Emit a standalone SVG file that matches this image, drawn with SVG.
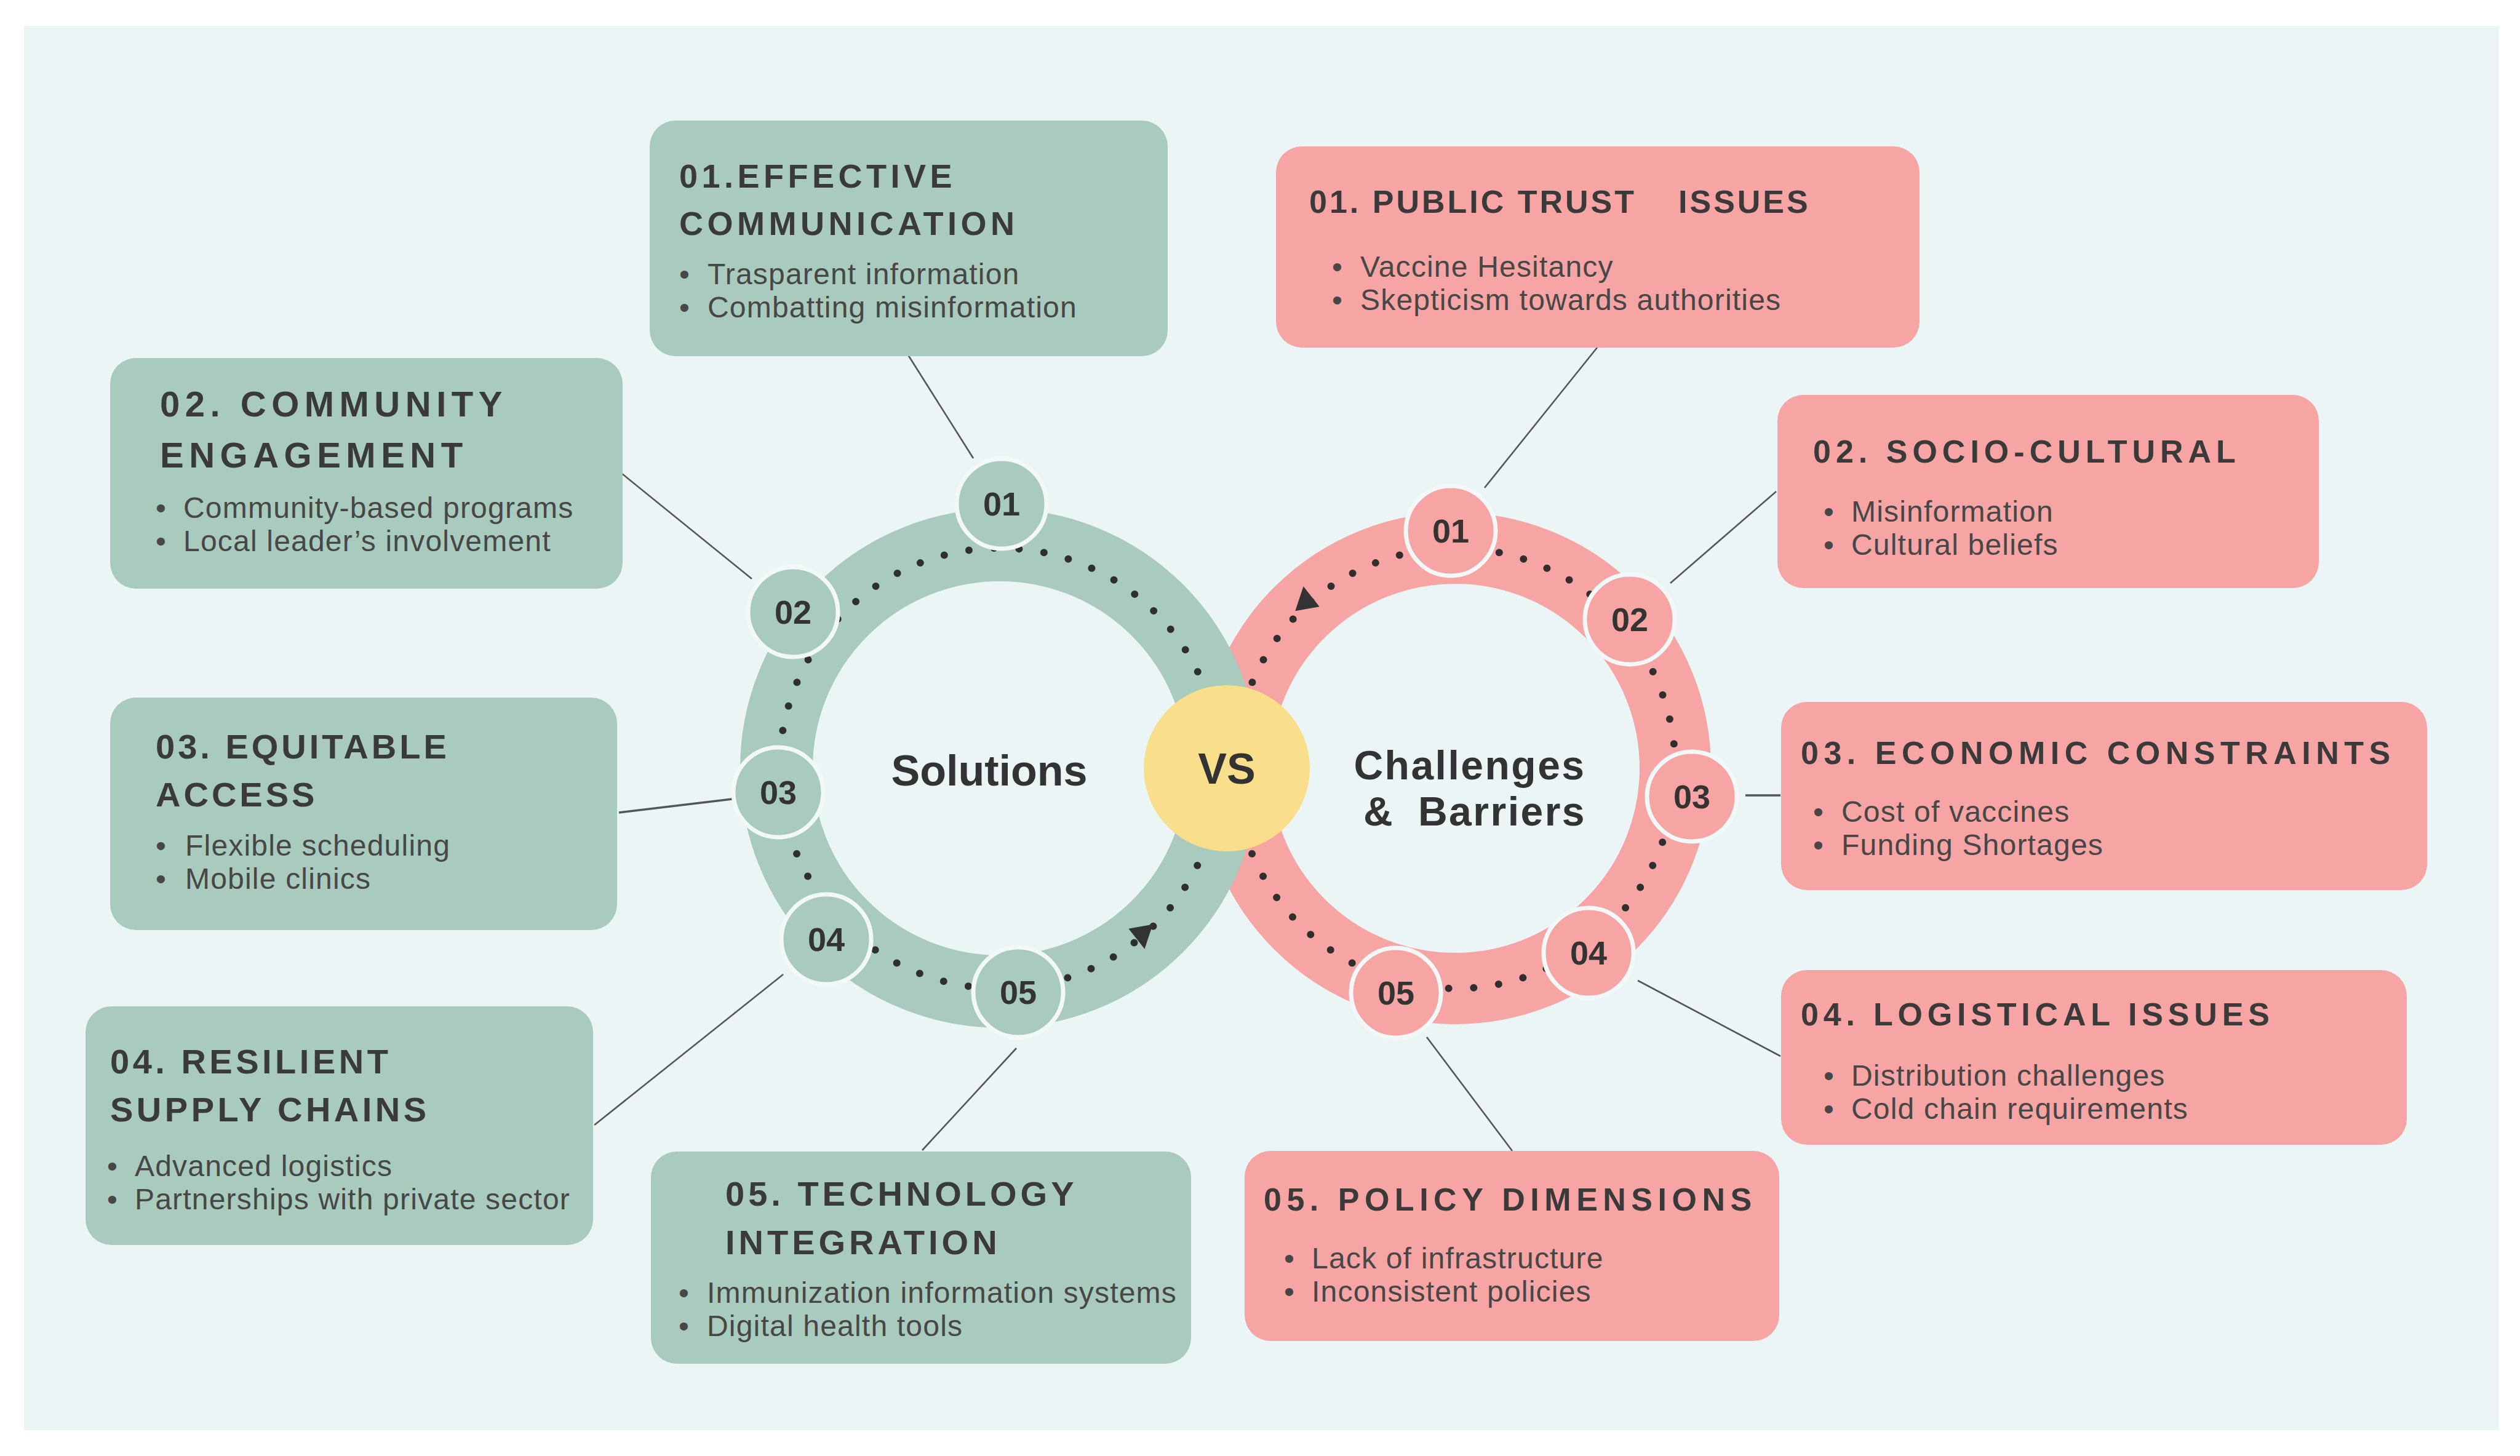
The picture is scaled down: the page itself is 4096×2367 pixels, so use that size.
<svg xmlns="http://www.w3.org/2000/svg" width="4096" height="2367" viewBox="0 0 4096 2367">
<style>
.bg{fill:#EBF5F5}
.gbox{fill:#A9CBBD}
.pbox{fill:#F6A4A4}
.t{font-family:"Liberation Sans",Arial,sans-serif;font-weight:bold;fill:#3A3A3A}
.b{font-family:"Liberation Sans",Arial,sans-serif;font-size:48px;letter-spacing:1.2px;fill:#474747}
.num{font-family:"Liberation Sans",Arial,sans-serif;font-weight:bold;font-size:54px;fill:#333333;text-anchor:middle}
.big{font-family:"Liberation Sans",Arial,sans-serif;font-weight:bold;font-size:70px;fill:#333333;text-anchor:middle}
.gn{fill:#A9CBBD;stroke:#F1F8F7;stroke-width:7}
.pn{fill:#F6A4A4;stroke:#F1F8F7;stroke-width:7}
.dots{fill:none;stroke:#2F2F2F;stroke-width:12;stroke-linecap:round;stroke-dasharray:0 40.9}
.conn{stroke:#555555;stroke-width:2.6;fill:none}
.arrow{fill:#333333}
</style>
<rect x="0" y="0" width="4096" height="2367" fill="#FFFFFF"/>
<rect class="bg" x="39" y="42" width="4023" height="2283"/>

<g id="rings">
  <circle id="pink-ring" cx="2365" cy="1249" r="358" fill="none" stroke="#F6A4A4" stroke-width="116"/>
  <circle class="dots" cx="2365" cy="1249" r="358"/>
  <circle id="green-ring" cx="1625" cy="1249" r="363" fill="none" stroke="#A9CBBD" stroke-width="118"/>
  <circle class="dots" cx="1625" cy="1249" r="358"/>
  <polygon class="arrow" points="20,0 -17,-20 -17,20" transform="translate(1857 1523) rotate(80)"/>
  <polygon class="arrow" points="20,0 -17,-20 -17,20" transform="translate(2122 973) rotate(-100)"/>
</g>

<g id="connectors">
  <line class="conn" x1="1582" y1="745" x2="1476" y2="577"/>
  <line class="conn" x1="1222" y1="941" x2="1011" y2="770"/>
  <line class="conn" x1="1006" y1="1321" x2="1190" y2="1299" style="stroke-width:3.5"/>
  <line class="conn" x1="1273" y1="1584" x2="966" y2="1829"/>
  <line class="conn" x1="1652" y1="1704" x2="1499" y2="1870"/>
  <line class="conn" x1="2413" y1="793" x2="2596" y2="565"/>
  <line class="conn" x1="2715" y1="948" x2="2887" y2="799"/>
  <line class="conn" x1="2837" y1="1293" x2="2894" y2="1293" style="stroke-width:3.5"/>
  <line class="conn" x1="2662" y1="1594" x2="2894" y2="1717"/>
  <line class="conn" x1="2319" y1="1686" x2="2458" y2="1871"/>
</g>

<g id="g-node-01"><circle class="gn" cx="1628" cy="819" r="73"/><text class="num" x="1628" y="838">01</text></g>
<g id="g-node-02"><circle class="gn" cx="1289" cy="995" r="73"/><text class="num" x="1289" y="1014">02</text></g>
<g id="g-node-03"><circle class="gn" cx="1265" cy="1288" r="73"/><text class="num" x="1265" y="1307">03</text></g>
<g id="g-node-04"><circle class="gn" cx="1343" cy="1527" r="73"/><text class="num" x="1343" y="1546">04</text></g>
<g id="g-node-05"><circle class="gn" cx="1655" cy="1613" r="73"/><text class="num" x="1655" y="1632">05</text></g>

<g id="p-node-01"><circle class="pn" cx="2358" cy="863" r="73"/><text class="num" x="2358" y="882">01</text></g>
<g id="p-node-02"><circle class="pn" cx="2649" cy="1007" r="73"/><text class="num" x="2649" y="1026">02</text></g>
<g id="p-node-03"><circle class="pn" cx="2750" cy="1295" r="73"/><text class="num" x="2750" y="1314">03</text></g>
<g id="p-node-04"><circle class="pn" cx="2582" cy="1549" r="73"/><text class="num" x="2582" y="1568">04</text></g>
<g id="p-node-05"><circle class="pn" cx="2269" cy="1614" r="73"/><text class="num" x="2269" y="1633">05</text></g>

<g id="vs"><circle cx="1994" cy="1249" r="135" fill="#F9DF8B"/><text class="big" x="1994" y="1274">VS</text></g>
<g id="solutions-label"><text class="big" x="1608" y="1277">Solutions</text></g>
<g id="challenges-label"><text class="big" style="font-size:66px;letter-spacing:2.5px"><tspan x="2389" y="1267">Challenges</tspan><tspan x="2397" y="1342" word-spacing="18">&amp; Barriers</tspan></text></g>

<g id="box-g1">
  <rect class="gbox" x="1056" y="196" width="842" height="383" rx="42"/>
  <text class="t" font-size="54" letter-spacing="6.5"><tspan x="1104" y="305">01.EFFECTIVE</tspan><tspan x="1104" y="382">COMMUNICATION</tspan></text>
  <text class="b"><tspan x="1104" y="462">•</tspan><tspan x="1150">Trasparent information</tspan><tspan x="1104" y="516">•</tspan><tspan x="1150">Combatting misinformation</tspan></text>
</g>
<g id="box-g2">
  <rect class="gbox" x="179" y="582" width="833" height="375" rx="42"/>
  <text class="t" font-size="58" letter-spacing="8.5"><tspan x="260" y="677">02. COMMUNITY</tspan><tspan x="260" y="760">ENGAGEMENT</tspan></text>
  <text class="b"><tspan x="253" y="842">•</tspan><tspan x="298">Community-based programs</tspan><tspan x="253" y="896">•</tspan><tspan x="298">Local leader’s involvement</tspan></text>
</g>
<g id="box-g3">
  <rect class="gbox" x="179" y="1134" width="824" height="378" rx="42"/>
  <text class="t" font-size="56" letter-spacing="5"><tspan x="253" y="1233">03. EQUITABLE</tspan><tspan x="253" y="1311">ACCESS</tspan></text>
  <text class="b"><tspan x="253" y="1391">•</tspan><tspan x="301">Flexible scheduling</tspan><tspan x="253" y="1445">•</tspan><tspan x="301">Mobile clinics</tspan></text>
</g>
<g id="box-g4">
  <rect class="gbox" x="139" y="1636" width="825" height="388" rx="42"/>
  <text class="t" font-size="56" letter-spacing="5.5"><tspan x="179" y="1745">04. RESILIENT</tspan><tspan x="179" y="1823">SUPPLY CHAINS</tspan></text>
  <text class="b"><tspan x="174" y="1912">•</tspan><tspan x="219">Advanced logistics</tspan><tspan x="174" y="1966">•</tspan><tspan x="219">Partnerships with private sector</tspan></text>
</g>
<g id="box-g5">
  <rect class="gbox" x="1058" y="1872" width="878" height="345" rx="42"/>
  <text class="t" font-size="56" letter-spacing="6"><tspan x="1179" y="1960">05. TECHNOLOGY</tspan><tspan x="1179" y="2039">INTEGRATION</tspan></text>
  <text class="b"><tspan x="1103" y="2118">•</tspan><tspan x="1149">Immunization information systems</tspan><tspan x="1103" y="2172">•</tspan><tspan x="1149">Digital health tools</tspan></text>
</g>

<g id="box-p1">
  <rect class="pbox" x="2074" y="238" width="1046" height="327" rx="42"/>
  <text class="t" y="346" font-size="52" letter-spacing="4"><tspan x="2128">01. PUBLIC TRUST</tspan><tspan x="2728">ISSUES</tspan></text>
  <text class="b"><tspan x="2165" y="450">•</tspan><tspan x="2211">Vaccine Hesitancy</tspan><tspan x="2165" y="504">•</tspan><tspan x="2211">Skepticism towards authorities</tspan></text>
</g>
<g id="box-p2">
  <rect class="pbox" x="2889" y="642" width="880" height="314" rx="42"/>
  <text class="t" x="2947" y="752" font-size="52" letter-spacing="8">02. SOCIO-CULTURAL</text>
  <text class="b"><tspan x="2964" y="848">•</tspan><tspan x="3009">Misinformation</tspan><tspan x="2964" y="902">•</tspan><tspan x="3009">Cultural beliefs</tspan></text>
</g>
<g id="box-p3">
  <rect class="pbox" x="2895" y="1141" width="1050" height="306" rx="42"/>
  <text class="t" x="2927" y="1242" font-size="52" letter-spacing="8.5">03. ECONOMIC CONSTRAINTS</text>
  <text class="b"><tspan x="2947" y="1336">•</tspan><tspan x="2993">Cost of vaccines</tspan><tspan x="2947" y="1390">•</tspan><tspan x="2993">Funding Shortages</tspan></text>
</g>
<g id="box-p4">
  <rect class="pbox" x="2895" y="1577" width="1017" height="284" rx="42"/>
  <text class="t" x="2927" y="1667" font-size="52" letter-spacing="7.8">04. LOGISTICAL ISSUES</text>
  <text class="b"><tspan x="2964" y="1765">•</tspan><tspan x="3009">Distribution challenges</tspan><tspan x="2964" y="1819">•</tspan><tspan x="3009">Cold chain requirements</tspan></text>
</g>
<g id="box-p5">
  <rect class="pbox" x="2023" y="1871" width="869" height="309" rx="42"/>
  <text class="t" x="2054" y="1968" font-size="52" letter-spacing="8.5">05. POLICY DIMENSIONS</text>
  <text class="b"><tspan x="2087" y="2062">•</tspan><tspan x="2132">Lack of infrastructure</tspan><tspan x="2087" y="2116">•</tspan><tspan x="2132">Inconsistent policies</tspan></text>
</g>
</svg>
